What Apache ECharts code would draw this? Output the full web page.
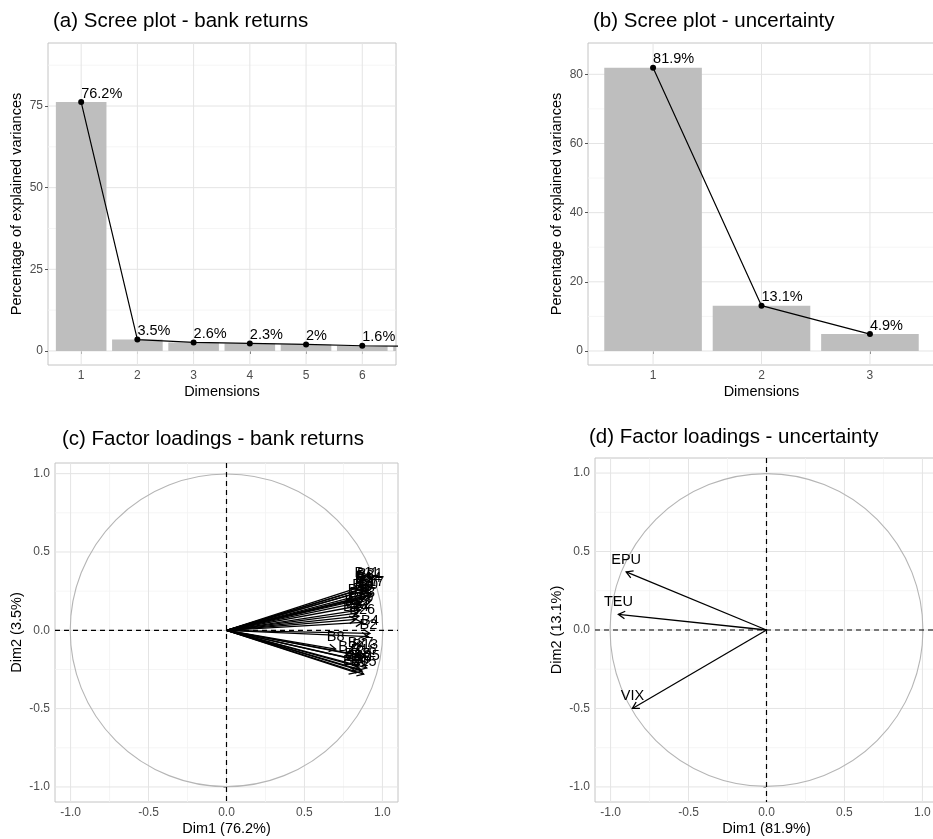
<!DOCTYPE html>
<html><head><meta charset="utf-8">
<script src="https://cdn.jsdelivr.net/npm/echarts@6/dist/echarts.min.js"></script>
<style>html,body{margin:0;padding:0;background:#fff}#c{width:933px;height:839px}</style>
</head><body><div id="c"></div>
<script>
// ---------------- data ----------------
const screeDimsA = [1, 2, 3, 4, 5, 6, 7];
const screeValsA = [76.2, 3.5, 2.6, 2.3, 2.0, 1.6, 1.4];
const screeDimsB = [1, 2, 3];
const screeValsB = [81.9, 13.1, 4.9];

const bankNames = ['B1','B2','B3','B4','B5','B6','B7','B8','B9','B10','B11','B12','B13','B14','B15',
                   'B16','B17','B18','B19','B20','B21','B22','B23','B24','B25','B26','B27','B28','B29','B30'];
const bankDim1 = [0.90, 0.91, 0.88, 0.92, 0.87, 0.89, 0.92, 0.70, 0.88, 0.85, 0.90, 0.86, 0.89, 0.91, 0.88,
                  0.88, 0.93, 0.84, 0.86, 0.83, 0.92, 0.85, 0.87, 0.83, 0.90, 0.87, 0.86, 0.80, 0.84, 0.89];
const bankDim2 = [0.22, -0.04, 0.25, -0.02, -0.26, 0.27, 0.24, -0.12, 0.20, -0.25, 0.29, 0.18, -0.17, 0.26, -0.28,
                  -0.20, 0.23, -0.23, 0.13, -0.27, 0.28, 0.09, 0.16, 0.07, -0.24, 0.05, -0.16, -0.18, 0.11, 0.21];

const uncNames = ['EPU', 'TEU', 'VIX'];
const uncDim1 = [-0.90, -0.95, -0.86];
const uncDim2 = [0.37, 0.10, -0.50];

const screeTicksAx = [1, 2, 3, 4, 5, 6];
const screeTicksAy = [0, 25, 50, 75];
const screeMinorAy = [12.5, 37.5, 62.5, 87.5];
const screeTicksBx = [1, 2, 3];
const screeTicksBy = [0, 20, 40, 60, 80];
const screeMinorBy = [10, 30, 50, 70];
const loadTicks = [-1, -0.5, 0, 0.5, 1];
const loadMinor = [-0.75, -0.25, 0.25, 0.75];

const titles = ['(a) Scree plot - bank returns', '(b) Scree plot - uncertainty',
                '(c) Factor loadings - bank returns', '(d) Factor loadings - uncertainty'];

// ---------------- layout / style ----------------
const FONT = 'Liberation Sans, Arial, Helvetica, sans-serif';
const R = [
  {x: [0.41, 6.6], y: [-4.3, 94.3]},
  {x: [0.4, 3.6], y: [-4.05, 89.05]},
  {x: [-1.1, 1.1], y: [-1.096, 1.068]},
  {x: [-1.1, 1.1], y: [-1.096, 1.096]}
];
const GRIDS = [
  {left: 48, top: 43, width: 348, height: 322},
  {left: 588, top: 43, width: 347, height: 322},
  {left: 55, top: 463, width: 343, height: 339},
  {left: 595, top: 458, width: 343, height: 344}
];
const MAJOR = '#E4E4E4', MINOR = '#F2F2F2';

function lineSet(gi, vals, dir, color, w) {
  return {
    type: 'custom', xAxisIndex: gi, yAxisIndex: gi, z: 1, silent: true, clip: true,
    data: vals.map(v => dir === 'h' ? [(R[gi].x[0] + R[gi].x[1]) / 2, v] : [v, (R[gi].y[0] + R[gi].y[1]) / 2]),
    renderItem: (params, api) => {
      const cs = params.coordSys;
      const p = api.coord([api.value(0), api.value(1)]);
      const shape = dir === 'h'
        ? {x1: cs.x, y1: p[1], x2: cs.x + cs.width, y2: p[1]}
        : {x1: p[0], y1: cs.y, x2: p[0], y2: cs.y + cs.height};
      return {type: 'line', shape, style: {stroke: color, lineWidth: w}};
    }
  };
}

function barsSeries(gi, dims, vals) {
  return {
    type: 'custom', xAxisIndex: gi, yAxisIndex: gi, z: 2, silent: true, clip: true,
    data: dims.map((d, i) => [d, vals[i]]),
    renderItem: (params, api) => {
      const x = api.value(0), y = api.value(1);
      const p0 = api.coord([x - 0.45, y]);
      const p1 = api.coord([x + 0.45, 0]);
      return {type: 'rect', shape: {x: p0[0], y: p0[1], width: p1[0] - p0[0], height: p1[1] - p0[1]},
              style: {fill: '#BEBEBE'}};
    }
  };
}

function lineSeries(gi, dims, vals) {
  return {
    type: 'line', xAxisIndex: gi, yAxisIndex: gi, z: 3, silent: true, clip: true,
    data: dims.map((d, i) => [d, vals[i]]),
    symbol: 'circle', symbolSize: 6, showSymbol: true,
    itemStyle: {color: '#000'}, lineStyle: {color: '#000', width: 1.2}
  };
}

function labelSeries(gi, dims, vals) {
  return {
    type: 'custom', xAxisIndex: gi, yAxisIndex: gi, z: 4, silent: true, clip: true,
    data: dims.map((d, i) => [d, vals[i]]),
    renderItem: (params, api) => {
      const p = api.coord([api.value(0), api.value(1)]);
      return {type: 'text', x: p[0], y: p[1] - 1,
              style: {text: api.value(1) + '%', fill: '#000', fontSize: 14.5, fontFamily: FONT,
                      align: 'left', verticalAlign: 'bottom'}};
    }
  };
}

function circleSeries(gi) {
  return {
    type: 'custom', xAxisIndex: gi, yAxisIndex: gi, z: 2, silent: true,
    data: [[0, 0]],
    renderItem: (params, api) => {
      const c = api.coord([api.value(0), api.value(1)]);
      const s = api.size([1, 1]);
      return {type: 'circle', shape: {cx: c[0], cy: c[1], r: (s[0] + s[1]) / 2},
              style: {fill: 'none', stroke: '#B5B5B5', lineWidth: 1.1}};
    }
  };
}

function dashSeries(gi) {
  return {
    type: 'custom', xAxisIndex: gi, yAxisIndex: gi, z: 2, silent: true,
    data: [[0, 0]],
    renderItem: (params, api) => {
      const cs = params.coordSys;
      const c = api.coord([api.value(0), api.value(1)]);
      const st = {stroke: '#000', lineWidth: 1.2, lineDash: [5, 4]};
      return {type: 'group', children: [
        {type: 'line', shape: {x1: c[0], y1: cs.y, x2: c[0], y2: cs.y + cs.height}, style: st},
        {type: 'line', shape: {x1: cs.x, y1: c[1], x2: cs.x + cs.width, y2: c[1]}, style: st}
      ]};
    }
  };
}

function arrowSeries(gi, names, d1, d2) {
  return {
    type: 'custom', xAxisIndex: gi, yAxisIndex: gi, z: 3, silent: true,
    data: d1.map((v, i) => [v, d2[i]]),
    renderItem: (params, api) => {
      const o = api.coord([0, 0]);
      const t = api.coord([api.value(0), api.value(1)]);
      const ang = Math.atan2(t[1] - o[1], t[0] - o[0]);
      const L = 7.5, a = Math.PI / 6;
      const h1 = [t[0] - L * Math.cos(ang - a), t[1] - L * Math.sin(ang - a)];
      const h2 = [t[0] - L * Math.cos(ang + a), t[1] - L * Math.sin(ang + a)];
      const st = {stroke: '#000', lineWidth: 1.3, fill: 'none'};
      return {type: 'group', children: [
        {type: 'line', shape: {x1: o[0], y1: o[1], x2: t[0], y2: t[1]}, style: st},
        {type: 'polyline', shape: {points: [h1, t, h2]}, style: st},
        {type: 'text', x: t[0], y: t[1] - 12,
         style: {text: names[params.dataIndex], fill: '#000', fontSize: 14.5, fontFamily: FONT,
                 align: 'center', verticalAlign: 'middle'}}
      ]};
    }
  };
}

function xAx(gi, ticks, fmt, name, gap) {
  return {
    type: 'value', gridIndex: gi, min: R[gi].x[0], max: R[gi].x[1],
    axisLine: {show: false},
    axisTick: {show: true, length: 3, lineStyle: {color: '#555', width: 1}, customValues: ticks},
    axisLabel: {customValues: ticks, formatter: fmt, color: '#4D4D4D', fontSize: 12, fontFamily: FONT, margin: 5},
    splitLine: {show: false}, minorSplitLine: {show: false},
    name, nameLocation: 'middle', nameGap: gap,
    nameTextStyle: {color: '#000', fontSize: 14.5, fontFamily: FONT}
  };
}
function yAx(gi, ticks, fmt, name, gap) {
  return {
    type: 'value', gridIndex: gi, min: R[gi].y[0], max: R[gi].y[1],
    axisLine: {show: false},
    axisTick: {show: true, length: 3, lineStyle: {color: '#555', width: 1}, customValues: ticks},
    axisLabel: {customValues: ticks, formatter: fmt, color: '#4D4D4D', fontSize: 12, fontFamily: FONT, margin: 5},
    splitLine: {show: false}, minorSplitLine: {show: false},
    name, nameLocation: 'middle', nameGap: gap, nameRotate: 90,
    nameTextStyle: {color: '#000', fontSize: 14.5, fontFamily: FONT}
  };
}

const intFmt = v => String(v);
const oneFmt = v => v.toFixed(1);

const option = {
  animation: false,
  backgroundColor: '#fff',
  title: [
    {text: titles[0], left: 53, top: 11},
    {text: titles[1], left: 593, top: 11},
    {text: titles[2], left: 62, top: 429},
    {text: titles[3], left: 589, top: 427}
  ].map(t => Object.assign(t, {padding: 0,
    textStyle: {fontSize: 20.5, fontWeight: 'normal', color: '#000', fontFamily: FONT}})),
  grid: GRIDS.map(g => Object.assign({show: true, borderColor: '#C4C4C4', borderWidth: 1,
    backgroundColor: 'transparent', containLabel: false, outerBoundsMode: 'none'}, g)),
  xAxis: [
    xAx(0, screeTicksAx, intFmt, 'Dimensions', 19),
    xAx(1, screeTicksBx, intFmt, 'Dimensions', 19),
    xAx(2, loadTicks, oneFmt, 'Dim1 (76.2%)', 19),
    xAx(3, loadTicks, oneFmt, 'Dim1 (81.9%)', 19)
  ],
  yAxis: [
    yAx(0, screeTicksAy, intFmt, 'Percentage of explained variances', 24),
    yAx(1, screeTicksBy, intFmt, 'Percentage of explained variances', 24),
    yAx(2, loadTicks, oneFmt, 'Dim2 (3.5%)', 31),
    yAx(3, loadTicks, oneFmt, 'Dim2 (13.1%)', 31)
  ],
  series: [
    // panel a
    lineSet(0, screeMinorAy, 'h', MINOR, 0.8),
    lineSet(0, screeTicksAy, 'h', MAJOR, 1),
    lineSet(0, screeTicksAx, 'v', MAJOR, 1),
    barsSeries(0, screeDimsA, screeValsA),
    lineSeries(0, screeDimsA, screeValsA),
    labelSeries(0, screeDimsA, screeValsA),
    // panel b
    lineSet(1, screeMinorBy, 'h', MINOR, 0.8),
    lineSet(1, screeTicksBy, 'h', MAJOR, 1),
    lineSet(1, screeTicksBx, 'v', MAJOR, 1),
    barsSeries(1, screeDimsB, screeValsB),
    lineSeries(1, screeDimsB, screeValsB),
    labelSeries(1, screeDimsB, screeValsB),
    // panel c
    lineSet(2, loadMinor, 'h', MINOR, 0.8),
    lineSet(2, loadMinor, 'v', MINOR, 0.8),
    lineSet(2, loadTicks, 'h', MAJOR, 1),
    lineSet(2, loadTicks, 'v', MAJOR, 1),
    circleSeries(2),
    dashSeries(2),
    arrowSeries(2, bankNames, bankDim1, bankDim2),
    // panel d
    lineSet(3, loadMinor, 'h', MINOR, 0.8),
    lineSet(3, loadMinor, 'v', MINOR, 0.8),
    lineSet(3, loadTicks, 'h', MAJOR, 1),
    lineSet(3, loadTicks, 'v', MAJOR, 1),
    circleSeries(3),
    dashSeries(3),
    arrowSeries(3, uncNames, uncDim1, uncDim2)
  ]
};

const chart = echarts.init(document.getElementById('c'));
chart.setOption(option);
</script>
</body></html>
